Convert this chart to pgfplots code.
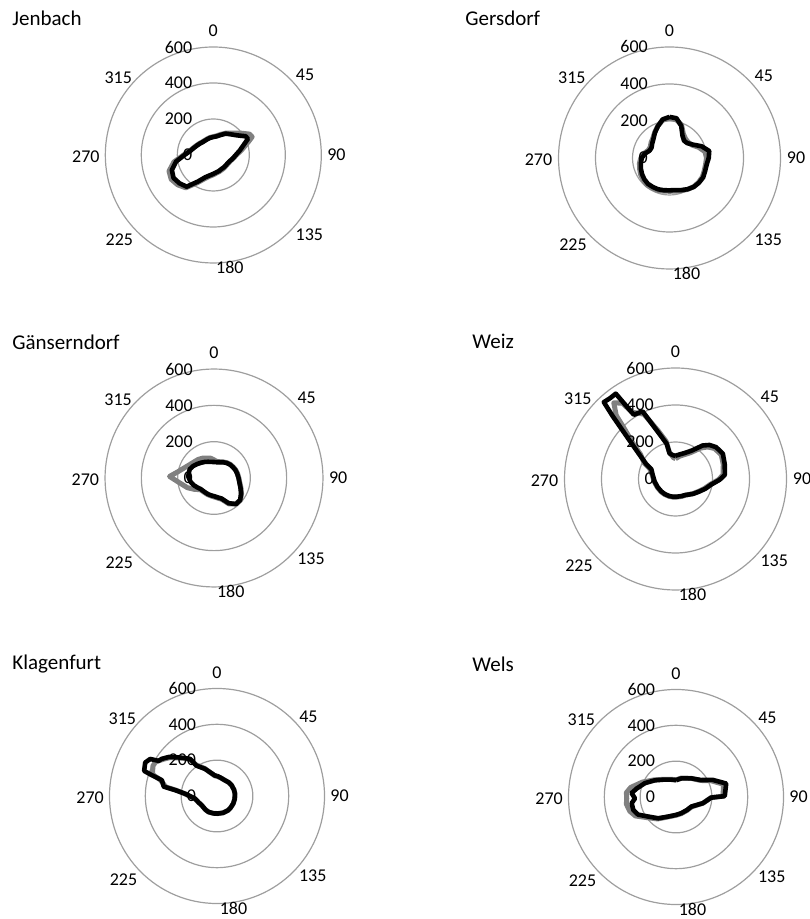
\documentclass[border=0pt]{standalone}
\usepackage{pgfplots}
\usepackage{pgfplotstable}
\pgfplotsset{compat=1.18}
\usepackage{fontspec}
\setmainfont{Carlito}
\definecolor{ring}{gray}{0.62}
\definecolor{sergray}{gray}{0.5}
\newcommand\lab{\fontsize{9}{10}\selectfont}
\newcommand\ttl{\fontsize{10.5}{12}\selectfont}

% a = direction (deg, clockwise from north), blk = black series, gry = grey series
\pgfplotstableread{
a blk gry
0 100 102
10 105 108
20 118 122
30 137 140
40 150 158
50 170 190
60 208 232
65 212 238
70 185 205
80 150 160
90 125 128
100 110 112
110 98 100
120 92 95
130 90 93
140 90 94
150 90 95
160 94 98
170 98 102
180 105 110
190 115 120
200 132 140
210 170 178
220 230 238
230 245 258
240 255 270
250 245 262
260 210 222
270 160 165
280 130 133
290 115 117
300 105 107
310 98 100
320 93 95
330 92 94
340 94 96
350 97 99
360 100 102
}\tJen

\pgfplotstableread{
a blk gry
0 222 215
10 218 210
20 185 190
30 140 150
40 122 135
50 125 132
60 145 140
70 185 168
80 218 195
90 212 200
100 204 198
110 205 200
120 210 205
130 208 205
140 204 203
150 195 196
160 185 188
170 176 182
180 175 180
190 177 182
200 180 186
210 181 188
220 182 190
230 178 185
240 172 180
250 165 172
260 157 165
270 150 155
280 135 140
290 115 122
300 112 120
310 122 130
320 135 140
330 158 160
340 183 185
350 212 208
360 222 215
}\tGer

\pgfplotstableread{
a blk gry
0 88 100
10 88 92
20 92 95
30 100 102
40 108 110
50 115 117
60 120 122
70 126 128
80 130 132
90 135 137
100 142 144
110 155 158
120 172 175
130 188 190
140 188 186
150 160 165
160 120 125
170 108 112
180 100 104
190 97 100
200 95 98
210 93 96
220 93 96
230 95 100
240 105 125
250 118 156
260 130 184
272 141 245
280 142 201
290 142 170
300 132 151
310 120 140
320 110 134
330 102 126
340 95 116
350 90 111
360 88 100
}\tGae

\pgfplotstableread{
a blk gry
0 126 110
10 135 125
20 150 140
30 178 165
39 233 215
45 260 245
52 279 268
62 290 280
73 278 270
85 268 258
91 239 232
99 195 190
108 170 165
118 145 142
130 125 123
140 110 110
148 102 103
160 98 100
175 96 98
187 97 99
200 98 100
215 100 102
228 102 104
245 106 108
263 114 116
280 125 128
292 141 150
297 178 190
305 246 230
310 325 300
315 480 400
317 568 470
321 562 530
325 563 500
327 414 430
334 407 390
340 264 280
346 196 210
347 141 150
355 128 115
360 126 110
}\tWei

\pgfplotstableread{
a blk gry
0 112 110
10 105 104
27 98 98
40 100 100
54 101 101
70 101 101
83 101 101
100 100 100
115 100 100
130 100 100
142 101 101
160 100 100
176 98 98
190 99 99
208 101 101
220 100 100
239 100 100
250 108 108
263 123 125
274 178 180
278 235 230
280 302 290
286 320 330
288 392 370
289 430 380
295 442 395
299 426 392
301 381 380
304 371 365
309 346 340
315 305 300
320 275 275
324 256 250
326 204 210
336 166 168
354 115 113
360 112 110
}\tKla

\pgfplotstableread{
a blk gry
0 94 96
16 108 110
39 134 134
56 169 165
65 226 215
75 290 275
89 272 262
91 196 196
103 154 154
122 101 103
140 95 97
162 95 97
180 100 102
202 118 120
220 155 160
235 190 200
245 233 250
253 249 270
262 250 280
268 229 275
275 249 278
282 225 258
294 190 205
308 151 155
327 116 118
345 100 102
360 94 96
}\tWel

\newcommand\radar[3]{%
\begin{axis}[at={#1}, anchor=center, x=#2, y=#2,
  xmin=-700, xmax=700, ymin=-700, ymax=700,
  axis lines=none, ticks=none, clip=false]
\draw[ring, line width=0.6pt] (axis cs:0,0) circle[radius=200];
\draw[ring, line width=0.6pt] (axis cs:0,0) circle[radius=400];
\draw[ring, line width=0.6pt] (axis cs:0,0) circle[radius=600];
\addplot[sergray, mark=none, line width=2.5pt, line join=round]
  table[x expr={\thisrow{gry}*sin(\thisrow{a})}, y expr={\thisrow{gry}*cos(\thisrow{a})}] {#3};
\addplot[black, mark=none, line width=2.3pt, line join=round]
  table[x expr={\thisrow{blk}*sin(\thisrow{a})}, y expr={\thisrow{blk}*cos(\thisrow{a})}] {#3};
\node[font=\lab, anchor=east, inner sep=0pt] at (axis cs:-115,600) {600};
\node[font=\lab, anchor=east, inner sep=0pt] at (axis cs:-115,400) {400};
\node[font=\lab, anchor=east, inner sep=0pt] at (axis cs:-115,200) {200};
\node[font=\lab, anchor=east, inner sep=0pt] at (axis cs:-115,0) {0};
\node[font=\lab, inner sep=0pt] at (axis cs:0,690) {0};
\node[font=\lab, inner sep=0pt] at (axis cs:510,444) {45};
\node[font=\lab, inner sep=0pt] at (axis cs:684,0) {90};
\node[font=\lab, inner sep=0pt] at (axis cs:534,-444) {135};
\node[font=\lab, inner sep=0pt] at (axis cs:92,-626) {180};
\node[font=\lab, inner sep=0pt] at (axis cs:-522,-468) {225};
\node[font=\lab, inner sep=0pt] at (axis cs:-708,-12) {270};
\node[font=\lab, inner sep=0pt] at (axis cs:-528,432) {315};
\end{axis}}

\begin{document}
\begin{tikzpicture}
\useasboundingbox (0,0) rectangle (404.5pt,459.5pt);
\radar{(106.65pt,382pt)}{0.09pt}{\tJen}
\radar{(334.75pt,380.5pt)}{0.0925pt}{\tGer}
\radar{(107pt,220.5pt)}{0.0908pt}{\tGae}
\radar{(337.75pt,220pt)}{0.0925pt}{\tWei}
\radar{(108.5pt,61.5pt)}{0.0896pt}{\tKla}
\radar{(338pt,61pt)}{0.0896pt}{\tWel}
\node[font=\ttl, anchor=base west, inner sep=0pt] at (6pt,446.5pt) {Jenbach};
\node[font=\ttl, anchor=base west, inner sep=0pt] at (232.5pt,446.5pt) {Gersdorf};
\node[font=\ttl, anchor=base west, inner sep=0pt] at (6pt,284.8pt) {Gänserndorf};
\node[font=\ttl, anchor=base west, inner sep=0pt] at (236pt,285pt) {Weiz};
\node[font=\ttl, anchor=base west, inner sep=0pt] at (6pt,124.8pt) {Klagenfurt};
\node[font=\ttl, anchor=base west, inner sep=0pt] at (236pt,123.6pt) {Wels};
\end{tikzpicture}
\end{document}
